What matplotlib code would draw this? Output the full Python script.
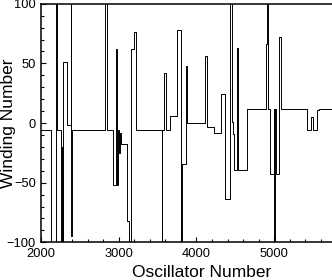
import matplotlib
matplotlib.use('Agg')
import matplotlib.pyplot as plt
from matplotlib.ticker import MultipleLocator

plt.rcParams['font.family'] = ['Liberation Sans', 'DejaVu Sans']

# oscillator index where each step begins, and the winding number held from there
# (+/-150 marks excursions that run off the plotted range)
osc_start = [2000, 2130, 2190, 2203, 2254, 2267, 2275, 2281, 2289, 2332,
             2383, 2393, 2406, 2824, 2856, 2923, 2965, 2978, 2995, 3008,
             3017, 3026, 3110, 3126, 3164, 3197, 3225, 3553, 3560, 3582,
             3604, 3659, 3752, 3797, 3810, 3865, 3874, 4105, 4141, 4221,
             4319, 4370, 4434, 4456, 4469, 4482, 4499, 4520, 4533, 4649,
             4889, 4910, 4921, 4945, 4990, 4996, 5005, 5018, 5060, 5080,
             5424, 5468, 5501, 5545, 5574]
winding = [-6, -150, 150, -6, -150, -20, -42, -150, 51, -2,
           150, -95, -6, 150, -6, -52, 62, -52, -6, -25,
           -8, -18, -82, -150, 62, 76, -6, -150, -6, 42,
           -6, 6, 78, -150, -34, 48, 0, 56, -3, -8,
           24, -64, 150, 1, -9, -39, -39, 63, -39, 12,
           66, 150, 12, -43, 12, -150, 12, -43, 72, 12,
           -6, 5, -6, 11, 12]
osc_end = 5800

x = osc_start + [osc_end]
y = winding + [winding[-1]]

fig = plt.figure(figsize=(3.32, 2.80), dpi=100)
ax = fig.add_axes([0.1232, 0.1346, 0.8834, 0.8521])

ax.step(x, y, where='post', color='black', lw=0.7)

ax.set_xlim(2000, 5770)
ax.set_ylim(-100, 100)
ax.xaxis.set_major_locator(MultipleLocator(1000))
ax.xaxis.set_minor_locator(MultipleLocator(200))
ax.yaxis.set_major_locator(MultipleLocator(50))
ax.yaxis.set_minor_locator(MultipleLocator(10))
ax.tick_params(which='both', direction='in', top=False, right=False,
               labelsize=9.3, width=0.8)
ax.tick_params(which='major', length=3.3)
ax.tick_params(which='minor', length=2)
ax.tick_params(axis='x', pad=4.3)
ax.tick_params(axis='y', pad=3.5)
for s in ax.spines.values():
    s.set_linewidth(1.1)

ax.set_xlabel('Oscillator Number', fontsize=12.5)
ax.xaxis.set_label_coords(0.547, -0.095)
ax.set_ylabel('Winding Number', fontsize=12.5)
ax.yaxis.set_label_coords(-0.084, 0.5)

fig.savefig('out.png', dpi=100)
